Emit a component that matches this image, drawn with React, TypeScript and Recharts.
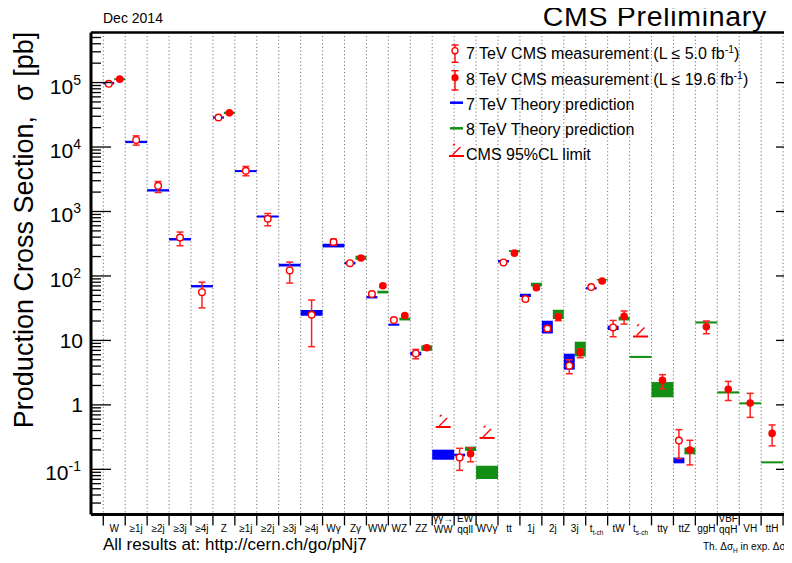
import React from 'react';
import {
  ComposedChart,
  XAxis,
  YAxis,
  CartesianGrid,
  Scatter,
  ErrorBar,
  ReferenceArea,
  ReferenceLine,
} from 'recharts';

const FONT = "'Liberation Sans', Arial, Helvetica, sans-serif";
const RED = '#ff0000';
const BLUE = '#0000ff';
const GREEN = '#138d13';

// Category labels ("\n" = two lines, "_" = subscript)
const categories = [
  'W', '≥1j', '≥2j', '≥3j', '≥4j',
  'Z', '≥1j', '≥2j', '≥3j', '≥4j',
  'Wγ', 'Zγ', 'WW', 'WZ', 'ZZ',
  'γγ→\nWW', 'EW\nqqll', 'WVγ',
  'tt', '1j', '2j', '3j',
  't_t-ch', 'tW', 't_s-ch', 'ttγ', 'ttZ',
  'ggH', 'VBF\nqqH', 'VH', 'ttH',
];

// 7 TeV measurements: [category index, value, lower, upper] (pb)
const meas7: [number, number, number, number][] = [
  [0, 95500, 93500, 97500],
  [1, 12900, 10700, 14900],
  [2, 2500, 1970, 2920],
  [3, 395, 294, 480],
  [4, 56, 32, 80],
  [5, 28700, 28000, 29400],
  [6, 4280, 3580, 4990],
  [7, 771, 600, 931],
  [8, 122, 77.6, 164],
  [9, 25, 8.0, 42.3],
  [10, 336, 303, 373],
  [11, 158, 152, 164],
  [12, 52.4, 50, 55],
  [13, 20.7, 19.8, 21.6],
  [14, 6.28, 5.2, 7.25],
  [16, 0.153, 0.0964, 0.212],
  [18, 162, 156, 168],
  [19, 43.9, 41, 47],
  [20, 15.3, 14, 16.7],
  [21, 4.05, 3.04, 5.01],
  [22, 67.3, 64, 71],
  [23, 15.9, 11.4, 20.4],
  [26, 0.279, 0.147, 0.413],
];

// 8 TeV measurements: [category index, value, lower, upper] (pb)
const meas8: [number, number, number, number][] = [
  [0, 113000, 110000, 116000],
  [5, 33900, 33000, 34800],
  [11, 190, 182, 198],
  [12, 70.5, 67, 74],
  [13, 24.4, 23.2, 25.6],
  [14, 7.7, 7.1, 8.3],
  [16, 0.175, 0.131, 0.216],
  [18, 226, 218, 234],
  [19, 65.6, 62, 69.5],
  [20, 23.1, 20.2, 25.7],
  [21, 6.52, 5.40, 7.36],
  [22, 83.3, 80, 87],
  [23, 23.6, 17.9, 28.6],
  [25, 2.40, 1.78, 2.94],
  [26, 0.200, 0.117, 0.282],
  [27, 16.3, 12.7, 20.0],
  [28, 1.74, 1.17, 2.31],
  [29, 1.07, 0.64, 1.51],
  [30, 0.361, 0.231, 0.488],
];

// 7 TeV theory predictions: [category index, lower, upper] (pb)
const theory7: [number, number, number][] = [
  [0, 93800, 102200],
  [1, 11500, 12500],
  [2, 2040, 2220],
  [3, 355, 387],
  [4, 66.4, 72.3],
  [5, 27500, 29900],
  [6, 4080, 4390],
  [7, 807, 867],
  [8, 140, 155],
  [9, 24.2, 29.6],
  [10, 277, 316],
  [11, 151, 166],
  [12, 44.8, 48.8],
  [13, 16.9, 18.2],
  [14, 5.85, 6.68],
  [15, 0.141, 0.202],
  [16, 0.159, 0.175],
  [18, 162, 177],
  [19, 47.1, 53],
  [20, 12.8, 20.2],
  [21, 3.52, 6.22],
  [22, 62, 67],
  [23, 14.5, 16.9],
  [26, 0.124, 0.152],
];

// 8 TeV theory predictions: [category index, lower, upper] (pb)
const theory8: [number, number, number][] = [
  [0, 109000, 117000],
  [5, 32600, 35200],
  [11, 178, 206],
  [12, 53.6, 59],
  [13, 20.4, 22.5],
  [14, 6.92, 8.36],
  [16, 0.193, 0.225],
  [17, 0.071, 0.114],
  [18, 235, 252],
  [19, 68.8, 78.5],
  [20, 21.5, 29.9],
  [21, 5.65, 9.55],
  [22, 85, 89.5],
  [23, 20.4, 23.3],
  [24, 5.35, 5.75],
  [25, 1.31, 2.26],
  [26, 0.171, 0.217],
  [27, 18.3, 19.7],
  [28, 1.5, 1.62],
  [29, 1.02, 1.095],
  [30, 0.124, 0.133],
];

// CMS 95% CL limits: [category index, energy (TeV), limit (pb)]
const limits: [number, number, number][] = [
  [15, 7, 0.454],
  [17, 8, 0.307],
  [24, 8, 11.5],
];

const yMajorTicks = [0.1, 1, 10, 100, 1000, 10000, 100000];
const yTickLabels: [string, string][] = [
  ['10', '-1'], ['1', ''], ['10', ''], ['10', '2'], ['10', '3'], ['10', '4'], ['10', '5'],
];
const Y_DOMAIN: [number, number] = [0.02, 6e5];
const X_DOMAIN: [number, number] = [-0.56, 31.27];

// ---- derived tables ----
const has7 = new Set<number>([
  ...meas7.map((d) => d[0]),
  ...theory7.map((d) => d[0]),
  ...limits.filter((l) => l[1] === 7).map((l) => l[0]),
]);
const has8 = new Set<number>([
  ...meas8.map((d) => d[0]),
  ...theory8.map((d) => d[0]),
  ...limits.filter((l) => l[1] === 8).map((l) => l[0]),
]);
const split = (c: number) => has7.has(c) && has8.has(c);
const ptX = (c: number, e: number) => (split(c) ? c + (e === 7 ? 0.25 : 0.75) : c + 0.5);
const bandX = (c: number, e: number): [number, number] =>
  split(c) ? (e === 7 ? [c, c + 0.5] : [c + 0.5, c + 1]) : [c, c + 1];

const m7Data = meas7.map(([c, v, lo, hi]) => ({ x: ptX(c, 7), y: v, err: [v - lo, hi - v] }));
const m8Data = meas8.map(([c, v, lo, hi]) => ({ x: ptX(c, 8), y: v, err: [v - lo, hi - v] }));
const limData = limits.map(([c, e, v]) => ({ x: ptX(c, e), y: v }));

const yMinorTicks: number[] = [];
for (let k = -2; k <= 5; k++) {
  for (let m = 2; m <= 9; m++) {
    const v = m * Math.pow(10, k);
    if (v > Y_DOMAIN[0] * 1.01 && v < Y_DOMAIN[1] * 0.99) yMinorTicks.push(v);
  }
}
const yAllTicks = [...yMajorTicks, ...yMinorTicks].sort((a, b) => a - b);
const xGridTicks = Array.from({ length: categories.length + 1 }, (_, i) => i);
const xAllTicks = Array.from({ length: 2 * categories.length + 1 }, (_, i) => i / 2);

const majorIndex = (v: number) => yMajorTicks.findIndex((t) => Math.abs(t - v) < 1e-9 * t);

// ---- shapes ----
const OpenCircle = (p: any) => (
  <circle cx={p.cx} cy={p.cy} r={3.3} fill="#fff" stroke={RED} strokeWidth={1.4} />
);
const FilledCircle = (p: any) => <circle cx={p.cx} cy={p.cy} r={3.8} fill={RED} />;
const LimitMark = (p: any) => (
  <g stroke={RED} fill="none">
    <line x1={p.cx - 7.5} x2={p.cx + 7.5} y1={p.cy} y2={p.cy} strokeWidth={2} />
    <line x1={p.cx - 4} y1={p.cy - 1} x2={p.cx + 4} y2={p.cy - 9} strokeWidth={1.3} />
    <line x1={p.cx - 3.5} y1={p.cy - 10.5} x2={p.cx - 1.5} y2={p.cy - 12.2} strokeWidth={1.3} />
  </g>
);

const LeftTick = (props: any) => {
  const { x, y, payload } = props;
  const idx = majorIndex(payload.value);
  const major = idx >= 0;
  const lab = major ? yTickLabels[idx] : null;
  return (
    <g>
      <line x1={x} x2={x + (major ? 20 : 10)} y1={y} y2={y} stroke="#000" strokeWidth={1.3} />
      {lab && lab[1] === '' && (
        <text x={x - 8} y={y + 7.5} textAnchor="end" fontSize={21} fontFamily={FONT} fill="#000">
          {lab[0]}
        </text>
      )}
      {lab && lab[1] !== '' && (
        <text x={x - 10} y={y + 11} textAnchor="end" fontSize={21} fontFamily={FONT} fill="#000">
          {lab[0]}
          <tspan fontSize={14} dy={-9}>{lab[1]}</tspan>
        </text>
      )}
    </g>
  );
};

const RightTick = (props: any) => {
  const { x, y, payload } = props;
  const major = majorIndex(payload.value) >= 0;
  return <line x1={x} x2={x - (major ? 13 : 5)} y1={y} y2={y} stroke="#000" strokeWidth={1.3} />;
};

// bottom axis: integer ticks = category boundaries (tick marks), half ticks = labels
const BottomTick = (props: any) => {
  const { x, y, payload } = props;
  const v = payload.value;
  if (Number.isInteger(v)) {
    return <line x1={x} x2={x} y1={y} y2={y + 11} stroke="#000" strokeWidth={1.3} />;
  }
  const label = categories[Math.floor(v)];
  if (!label) return <g />;
  const common = { textAnchor: 'middle' as const, fontSize: 10, fontFamily: FONT, fill: '#000' };
  if (label.includes('\n')) {
    const [a, b] = label.split('\n');
    return (
      <g>
        <text x={x} y={y + 8} {...common}>{a}</text>
        <text x={x} y={y + 19} {...common}>{b}</text>
      </g>
    );
  }
  if (label.includes('_')) {
    const [a, b] = label.split('_');
    return (
      <text x={x} y={y + 17.6} {...common}>
        {a}
        <tspan fontSize={6.5} dy={2.5}>{b}</tspan>
      </text>
    );
  }
  return <text x={x} y={y + 17.6} {...common}>{label}</text>;
};

const Overlay = () => (
  <svg
    width={784}
    height={555}
    style={{ position: 'absolute', left: 0, top: 0, pointerEvents: 'none', overflow: 'visible' }}
    fontFamily={FONT}
  >
    <text x={95} y={14.7} fontSize={14} fill="#000">Dec 2014</text>
    <text x={759} y={18.3} fontSize={28.5} letterSpacing={0.7} textAnchor="end" fill="#000">
      CMS Preliminary
    </text>
    <text transform="translate(25,222) rotate(-90)" textAnchor="middle" fontSize={27} fill="#000">
      {'Production Cross Section,\u00a0 σ [pb]'}
    </text>
    <text x={95} y={541.5} fontSize={17} fill="#000">All results at: http://cern.ch/go/pNj7</text>
    <text x={695} y={542} fontSize={10} fill="#000">
      Th. Δσ
      <tspan fontSize={6.5} dy={2.5}>H</tspan>
      <tspan dy={-2.5}> in exp. Δσ</tspan>
    </text>

    {/* legend */}
    <g>
      <line x1={447} x2={447} y1={37} y2={54.3} stroke={RED} strokeWidth={1.4} />
      <line x1={443.5} x2={450.5} y1={37} y2={37} stroke={RED} strokeWidth={1.4} />
      <line x1={443.5} x2={450.5} y1={54.3} y2={54.3} stroke={RED} strokeWidth={1.4} />
      <circle cx={447} cy={42.7} r={3} fill="#fff" stroke={RED} strokeWidth={1.3} />
      <text x={458} y={51} fontSize={16} fill="#000">
        7 TeV CMS measurement (L ≤ 5.0 fb<tspan fontSize={10.5} dy={-6}>-1</tspan>
        <tspan dy={6}>)</tspan>
      </text>

      <line x1={447} x2={447} y1={62.7} y2={82} stroke={RED} strokeWidth={1.4} />
      <line x1={443.5} x2={450.5} y1={62.7} y2={62.7} stroke={RED} strokeWidth={1.4} />
      <line x1={443.5} x2={450.5} y1={82} y2={82} stroke={RED} strokeWidth={1.4} />
      <circle cx={447} cy={69.7} r={3.6} fill={RED} />
      <text x={458} y={77} fontSize={16} fill="#000">
        8 TeV CMS measurement (L ≤ 19.6 fb<tspan fontSize={10.5} dy={-6}>-1</tspan>
        <tspan dy={6}>)</tspan>
      </text>

      <line x1={442} x2={455} y1={94.7} y2={94.7} stroke={BLUE} strokeWidth={2.5} />
      <text x={458} y={101.5} fontSize={16} fill="#000">7 TeV Theory prediction</text>

      <line x1={442} x2={455} y1={120.3} y2={120.3} stroke={GREEN} strokeWidth={2.5} />
      <text x={458} y={126.5} fontSize={16} fill="#000">8 TeV Theory prediction</text>

      <LimitMark cx={448.5} cy={148} />
      <text x={458} y={152} fontSize={16} fill="#000">CMS 95%CL limit</text>
    </g>
  </svg>
);

export default function App() {
  return (
    <div style={{ position: 'relative', width: 784, height: 555, fontFamily: FONT, background: '#fff' }}>
      <ComposedChart
        width={784}
        height={555}
        margin={{ top: 24.4, right: 0, bottom: 6.6, left: 0 }}
      >
        <CartesianGrid
          horizontal={false}
          verticalValues={xGridTicks}
          stroke="#777"
          strokeDasharray="1.2 2.4"
        />
        <XAxis
          type="number"
          dataKey="x"
          domain={X_DOMAIN}
          allowDataOverflow
          ticks={xAllTicks}
          interval={0}
          tick={<BottomTick />}
          tickLine={false}
          tickSize={0}
          tickMargin={0}
          axisLine={{ stroke: '#000', strokeWidth: 3 }}
          height={42}
        />
        <YAxis
          type="number"
          dataKey="y"
          scale="log"
          domain={Y_DOMAIN}
          allowDataOverflow
          ticks={yAllTicks}
          interval={0}
          width={83}
          tick={<LeftTick />}
          tickLine={false}
          tickSize={0}
          tickMargin={0}
          axisLine={{ stroke: '#000', strokeWidth: 3 }}
        />
        <YAxis
          yAxisId="r"
          orientation="right"
          type="number"
          scale="log"
          domain={Y_DOMAIN}
          allowDataOverflow
          ticks={yAllTicks}
          interval={0}
          width={3}
          tick={<RightTick />}
          tickLine={false}
          tickSize={0}
          tickMargin={0}
          axisLine={{ stroke: '#000', strokeWidth: 1.5 }}
        />
        <ReferenceLine y={Y_DOMAIN[1]} stroke="#000" strokeWidth={2.5} ifOverflow="visible" />
        <ReferenceLine x={X_DOMAIN[1]} stroke="#000" strokeWidth={1.5} ifOverflow="visible" />

        {theory7.map(([c, lo, hi]) => {
          const [x1, x2] = bandX(c, 7);
          return (
            <ReferenceArea
              key={'t7-' + c}
              x1={x1}
              x2={x2}
              y1={lo}
              y2={hi}
              fill={BLUE}
              fillOpacity={1}
              stroke="none"
              ifOverflow="visible"
            />
          );
        })}
        {theory8.map(([c, lo, hi]) => {
          const [x1, x2] = bandX(c, 8);
          return (
            <ReferenceArea
              key={'t8-' + c}
              x1={x1}
              x2={x2}
              y1={lo}
              y2={hi}
              fill={GREEN}
              fillOpacity={1}
              stroke="none"
              ifOverflow="visible"
            />
          );
        })}

        <Scatter data={limData} shape={LimitMark} isAnimationActive={false} />
        <Scatter data={m7Data} shape={OpenCircle} isAnimationActive={false}>
          <ErrorBar dataKey="err" direction="y" width={3.5} stroke="#ff2020" strokeWidth={1.5} isAnimationActive={false} />
        </Scatter>
        <Scatter data={m8Data} shape={FilledCircle} isAnimationActive={false}>
          <ErrorBar dataKey="err" direction="y" width={3.5} stroke="#ff2020" strokeWidth={1.5} isAnimationActive={false} />
        </Scatter>
      </ComposedChart>
      <Overlay />
    </div>
  );
}
